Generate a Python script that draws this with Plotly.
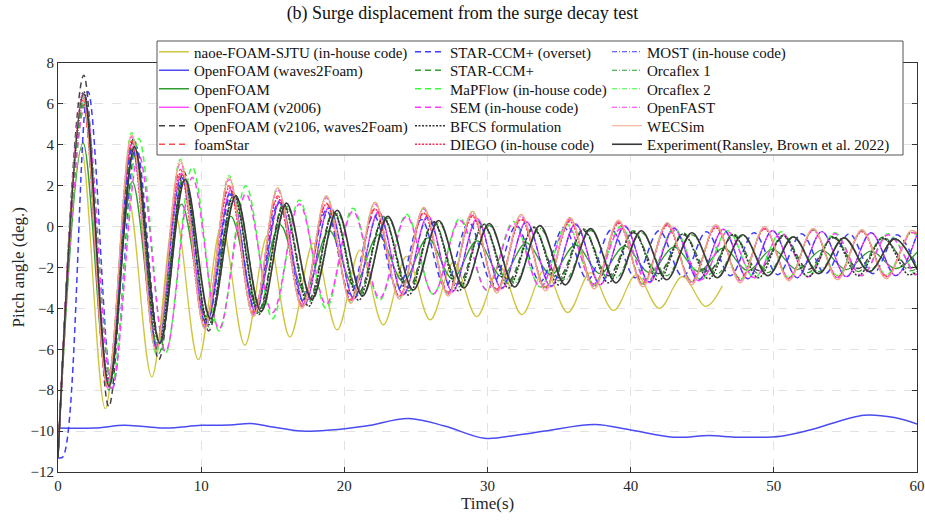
import plotly.graph_objects as go

# ---------------- data ----------------
# extrema times (s) of the different oscillation families
T_A = [0, 1.75, 3.45, 5.15, 6.85, 8.55, 10.25, 11.95, 13.65, 15.35, 17.05, 18.75, 20.45, 22.15,
       23.85, 25.55, 27.25, 28.95, 30.65, 32.35, 34.05, 35.75, 37.45, 39.15, 40.85, 42.55,
       44.25, 45.95, 47.65, 49.35, 51.05, 52.75, 54.45, 56.15, 57.85, 59.55, 60]
T_B = [0, 1.75, 3.47, 5.19, 6.91, 8.63, 10.35, 12.07, 13.79, 15.51, 17.23, 18.95, 20.67, 22.39,
       24.11, 25.83, 27.55, 29.27, 30.99, 32.71, 34.43, 36.15, 37.87, 39.59, 41.31, 43.03,
       44.75, 46.47, 48.19, 49.91, 51.63, 53.35, 55.07, 56.79, 58.51, 60]
T_C = [0, 1.8, 3.55, 5.29, 7.04, 8.78, 10.53, 12.27, 14.02, 15.76, 17.51, 19.25, 21.0, 22.74,
       24.49, 26.23, 27.98, 29.72, 31.47, 33.21, 34.96, 36.7, 38.45, 40.19, 41.94, 43.68,
       45.43, 47.17, 48.92, 50.66, 52.41, 54.15, 55.9, 57.64, 59.39, 60]
T_EXP = [0, 1.8, 3.57, 5.34, 7.11, 8.88, 10.65, 12.42, 14.19, 15.96, 17.73, 19.5, 21.27, 23.04,
         24.81, 26.58, 28.35, 30.12, 31.89, 33.66, 35.43, 37.2, 38.97, 40.74, 42.51, 44.28,
         46.05, 47.82, 49.59, 51.36, 53.13, 54.9, 56.67, 58.44, 60]
T_SEM = [0, 1.9, 3.77, 5.64, 7.51, 9.38, 11.25, 13.12, 14.99, 16.86, 18.73, 20.6, 22.47, 24.34,
         26.21, 28.08, 29.95, 31.82, 33.69, 35.56, 37.43, 39.3, 41.17, 43.04, 44.91, 46.78,
         48.65, 50.52, 52.39, 54.26, 56.13, 58.0, 59.87, 60]
T_BLUE = [0, 0.35, 2.1, 3.8, 5.46, 7.12, 8.78, 10.44, 12.1, 13.76, 15.42, 17.08, 18.74, 20.4,
          22.06, 23.72, 25.38, 27.04, 28.7, 30.36, 32.02, 33.68, 35.34, 37.0, 38.66, 40.32,
          41.98, 43.64, 45.3, 46.96, 48.62, 50.28, 51.94, 53.6, 55.26, 56.92, 58.58, 60]
T_YELLOW = [0, 1.62, 3.3, 4.92, 6.55, 8.18, 9.8, 11.43, 13.05, 14.65, 16.2, 17.85, 19.5, 21.1,
            22.72, 24.35, 26.0, 27.62, 29.25, 30.85, 32.4, 34.0, 35.6, 37.2, 38.8, 40.4, 42.0,
            43.62, 45.25, 46.4]
T_W2F = [0, 2.5, 4.6, 6.0, 7.6, 10.0, 12.0, 13.5, 15.0, 17.0, 19.0, 21.5, 24.5, 27.0, 29.8,
         32.0, 34.0, 37.5, 40.0, 43.0, 45.5, 47.5, 50.5, 52.5, 56.3, 58.5, 60]

# pitch angle values (deg.) at those times
naoe = [-11.3, 3.8, -8.9, 1.3, -7.35, 0.6, -6.5, 0.05, -5.8, -0.4, -5.4, -0.8, -5.05, -1.15,
        -4.8, -1.45, -4.56, -1.75, -4.4, -1.95, -4.3, -2.1, -4.2, -2.25, -4.1, -2.35, -4.0,
        -2.45, -3.9, -2.9]
of_w2f = [-9.85, -9.85, -9.72, -9.78, -9.85, -9.72, -9.7, -9.63, -9.8, -10.0, -9.95, -9.75,
          -9.38, -9.75, -10.35, -10.2, -10.0, -9.68, -9.95, -10.3, -10.22, -10.3, -10.25, -9.95,
          -9.22, -9.35, -9.65]
openfoam = [-11.3, 4.1, -7.6, 2.2, -5.7, 1.1, -4.4, 0.5, -3.7, 0.1, -3.2, -0.2, -2.9, -0.4, -2.7,
            -0.55, -2.55, -0.7, -2.45, -0.8, -2.35, -0.9, -2.3, -0.95, -2.25, -1.0, -2.2, -1.05,
            -2.15, -1.1, -2.1, -1.15, -2.1, -1.2, -2.05, -1.25]
of_v2006 = [-11.3, 6.4, -7.9, 4.1, -5.8, 2.6, -4.8, 1.8, -4.2, 1.3, -3.8, 1.0, -3.55, 0.75, -3.35,
            0.55, -3.2, 0.4, -3.05, 0.25, -2.95, 0.15, -2.85, 0.05, -2.75, -0.05, -2.65, -0.12,
            -2.55, -0.2, -2.5, -0.25, -2.45, -0.3, -2.4, -0.4]
of_v2106 = [-11.3, 7.4, -8.8, 4.3, -6.5, 2.7, -5.1, 1.7, -4.1, 1.1, -3.6, 0.7, -3.25, 0.4, -3.0,
            0.2, -2.8, 0.05, -2.65, -0.1, -2.5, -0.2, -2.4, -0.3, -2.3, -0.4, -2.2, -0.45, -2.15,
            -0.5, -2.1, -0.55, -2.05, -0.6, -2.0, -1.9]
foamstar = [-11.3, 5.9, -7.8, 4.2, -5.9, 2.8, -4.8, 2.0, -4.2, 1.5, -3.8, 1.15, -3.55, 0.9, -3.4,
            0.7, -3.2, 0.55, -3.05, 0.4, -2.95, 0.3, -2.85, 0.2, -2.75, 0.1, -2.65, 0.0, -2.55,
            -0.1, -2.5, -0.15, -2.45, -0.2, -2.4, -0.25, -0.35]
star_overset = [-11.3, -11.25, 6.6, -7.9, 3.9, -5.7, 2.3, -4.6, 1.6, -4.0, 1.2, -3.6, 0.8, -3.3,
                0.55, -3.1, 0.35, -2.95, 0.2, -2.8, 0.05, -2.7, -0.05, -2.6, -0.15, -2.5, -0.2,
                -2.45, -0.25, -2.4, -0.3, -2.35, -0.35, -2.3, -0.35, -2.3, -0.4, -2.0]
star_ccm = [-11.3, 6.2, -8.0, 4.0, -6.2, 2.5, -4.9, 1.6, -4.2, 1.1, -3.7, 0.8, -3.4, 0.5, -3.15,
            0.3, -2.95, 0.15, -2.8, 0.0, -2.65, -0.1, -2.55, -0.2, -2.45, -0.3, -2.35, -0.35,
            -2.3, -0.4, -2.25, -0.45, -2.2, -0.5, -2.15, -2.05]
mapflow = [-11.3, 6.0, -7.6, 4.3, -6.2, 2.9, -5.1, 2.0, -4.5, 1.3, -4.0, 0.9, -3.6, 0.6, -3.3,
           0.4, -3.1, 0.25, -2.95, 0.1, -2.8, 0.0, -2.7, -0.1, -2.6, -0.2, -2.5, -0.25, -2.45,
           -0.3, -2.4, -0.35, -2.35, -2.3]
sem = [-11.3, 6.0, -7.9, 3.5, -6.1, 2.4, -5.0, 1.6, -4.2, 1.1, -3.8, 0.75, -3.5, 0.5, -3.3,
       0.3, -3.1, 0.15, -2.95, 0.0, -2.8, -0.1, -2.7, -0.2, -2.6, -0.25, -2.5, -0.3, -2.45,
       -0.35, -2.4, -0.4, -2.35, -2.3]
bfcs = [-11.3, 6.6, -7.5, 3.6, -5.6, 2.2, -4.8, 1.5, -4.3, 1.0, -3.9, 0.7, -3.6, 0.45, -3.35,
        0.25, -3.15, 0.1, -3.0, -0.05, -2.85, -0.15, -2.75, -0.25, -2.65, -0.35, -2.55, -0.4,
        -2.5, -0.45, -2.45, -0.5, -2.4, -0.55, -2.35, -2.2]
diego = [-11.3, 6.2, -7.8, 4.0, -6.0, 2.6, -4.9, 1.9, -4.3, 1.4, -3.9, 1.1, -3.6, 0.85, -3.4,
         0.65, -3.25, 0.5, -3.1, 0.35, -3.0, 0.25, -2.9, 0.15, -2.8, 0.05, -2.7, -0.05, -2.6,
         -0.12, -2.55, -0.18, -2.5, -0.25, -2.45, -0.3, -0.4]
most = [-11.3, 6.3, -7.7, 3.8, -5.9, 2.4, -4.8, 1.7, -4.2, 1.2, -3.8, 0.9, -3.5, 0.65, -3.3,
        0.45, -3.15, 0.3, -3.0, 0.2, -2.9, 0.1, -2.8, 0.0, -2.7, -0.1, -2.6, -0.15, -2.55,
        -0.2, -2.5, -0.25, -2.45, -0.3, -2.4, -0.35]
orcaflex1 = [-11.3, 6.0, -7.6, 3.7, -5.7, 2.3, -4.6, 1.5, -4.0, 1.0, -3.6, 0.65, -3.3, 0.4, -3.1,
             0.2, -2.9, 0.05, -2.75, -0.1, -2.6, -0.2, -2.5, -0.3, -2.4, -0.4, -2.3, -0.45,
             -2.25, -0.5, -2.2, -0.55, -2.15, -0.6, -2.0]
orcaflex2 = [-11.3, 6.3, -7.7, 4.6, -6.2, 3.3, -5.0, 2.5, -4.4, 1.9, -3.9, 1.5, -3.7, 1.2, -3.5,
             0.9, -3.3, 0.75, -3.15, 0.55, -3.0, 0.42, -2.9, 0.28, -2.8, 0.18, -2.7, 0.05, -2.6,
             -0.05, -2.5, -0.15, -2.4, -0.22, -2.35, -0.3, -0.4]
openfast = [-11.3, 6.5, -7.6, 4.4, -6.0, 3.1, -4.9, 2.3, -4.3, 1.8, -3.9, 1.4, -3.65, 1.1, -3.45,
            0.85, -3.3, 0.65, -3.15, 0.5, -3.05, 0.38, -2.95, 0.25, -2.85, 0.15, -2.75, 0.02,
            -2.65, -0.08, -2.55, -0.15, -2.5, -0.22, -2.45, -0.3, -0.4]
wecsim = [-11.3, 6.4, -7.8, 4.5, -6.1, 3.2, -5.0, 2.4, -4.4, 1.9, -4.0, 1.5, -3.75, 1.2, -3.55,
          0.95, -3.4, 0.75, -3.25, 0.6, -3.15, 0.45, -3.05, 0.32, -2.95, 0.2, -2.85, 0.1, -2.75,
          0.0, -2.65, -0.08, -2.6, -0.15, -2.55, -0.2, -0.3]
experiment = [-11.3, 6.5, -7.8, 3.9, -5.7, 2.3, -4.5, 1.5, -4.15, 1.15, -3.55, 0.8, -3.4, 0.5,
              -3.1, 0.3, -3.0, 0.15, -2.95, 0.05, -2.85, -0.1, -2.75, -0.2, -2.6, -0.3, -2.5,
              -0.4, -2.4, -0.5, -2.3, -0.55, -2.2, -0.6, -2.1]

series_names = ["naoe-FOAM-SJTU (in-house code)", "OpenFOAM (waves2Foam)", "OpenFOAM",
                "OpenFOAM (v2006)", "OpenFOAM (v2106, waves2Foam)", "foamStar",
                "STAR-CCM+ (overset)", "STAR-CCM+", "MaPFlow (in-house code)",
                "SEM (in-house code)", "BFCS formulation", "DIEGO (in-house code)",
                "MOST (in-house code)", "Orcaflex 1", "Orcaflex 2", "OpenFAST", "WECSim",
                "Experiment(Ransley, Brown et al. 2022)"]
series_t = [T_YELLOW, T_W2F, T_B, T_B, T_C, T_A, T_BLUE, T_C, T_SEM, T_SEM, T_C, T_A,
            T_B, T_EXP, T_A, T_A, T_A, T_EXP]
series_y = [naoe, of_w2f, openfoam, of_v2006, of_v2106, foamstar, star_overset, star_ccm,
            mapflow, sem, bfcs, diego, most, orcaflex1, orcaflex2, openfast, wecsim, experiment]

x_ticks = [0, 10, 20, 30, 40, 50, 60]
y_ticks = [-12, -10, -8, -6, -4, -2, 0, 2, 4, 6, 8]

# ---------------- styles ----------------
DASH = "6px,4px"
DOT = "2px,1.5px"
DASHDOT = "5px,2px,1px,2px"
styles = [
    ("#cfc53f", "solid", 1.3), ("#4b4bf2", "solid", 1.5), ("#2e9e2e", "solid", 1.3),
    ("#ff3cff", "solid", 1.3), ("#444444", DASH, 1.5), ("#ff4d4d", DASH, 1.3),
    ("#3c3cff", DASH, 1.5), ("#2e9e2e", DASH, 1.3), ("#3cff3c", DASH, 1.5),
    ("#ff3cff", DASH, 1.5), ("#333333", DOT, 1.5), ("#ff2a55", DOT, 1.5),
    ("#3c3cff", DASHDOT, 1.2), ("#2e9e2e", DASHDOT, 1.2), ("#3cff3c", DASHDOT, 1.2),
    ("#ff3cff", DASHDOT, 1.2), ("#f4a585", "solid", 1.2), ("#3a3a3a", "solid", 1.6),
]

W, H = 925, 524
L, R, T, B = 58, 8, 63, 52
PW, PH = W - L - R, H - T - B


def px_x(p):
    return (p - L) / PW


def px_y(p):
    return (H - B - p) / PH


FONT = "Liberation Serif"

# one legend per entry, laid out in three columns of six rows
col_left = [154, 410, 607]
row_mid = [52, 70.5, 89, 107.5, 126, 144.5]

fig = go.Figure()
legend_layouts = {}
for i, (name, t, y, (col, dash, w)) in enumerate(zip(series_names, series_t, series_y, styles)):
    lid = "legend" if i == 0 else f"legend{i + 1}"
    fig.add_trace(go.Scatter(x=t, y=y, name=name, mode="lines", legend=lid,
                             line=dict(color=col, dash=dash, width=w,
                                       shape="spline", smoothing=1.0)))
    c, r = divmod(i, 6)
    legend_layouts[lid] = dict(x=px_x(col_left[c]), y=px_y(row_mid[r]), xanchor="left",
                               yanchor="middle", bgcolor="rgba(0,0,0,0)", borderwidth=0,
                               font=dict(family=FONT, size=15, color="#111111"),
                               itemwidth=30)

axis_common = dict(showline=True, linecolor="#333333", linewidth=1, mirror="ticks",
                   ticks="inside", ticklen=5, tickcolor="#333333",
                   showgrid=True, gridcolor="#e2e2e2", griddash="dash", gridwidth=1,
                   zeroline=False, tickfont=dict(family=FONT, size=15, color="#262626"))

fig.update_layout(
    width=W, height=H,
    margin=dict(l=L, r=R, t=T, b=B, autoexpand=False),
    paper_bgcolor="white", plot_bgcolor="white",
    font=dict(family=FONT, color="#262626"),
    title=dict(text="(b) Surge displacement from the surge decay test", x=0.5, xref="container",
               y=1 - 13 / H, yref="container", yanchor="middle", xanchor="center",
               font=dict(family=FONT, size=18, color="#111111")),
    xaxis=dict(range=[0, 60], tickvals=x_ticks, **axis_common),
    yaxis=dict(range=[-12, 8], tickvals=y_ticks, **axis_common),
    showlegend=True,
    **legend_layouts,
)

# legend frame
fig.add_shape(type="rect", xref="paper", yref="paper",
              x0=px_x(157), x1=px_x(903), y0=px_y(155), y1=px_y(41),
              line=dict(color="#555555", width=1), fillcolor="white", layer="above")

fig.add_annotation(text="Time(s)", xref="paper", yref="paper", x=0.5, y=px_y(503),
                   showarrow=False, yanchor="middle", font=dict(family=FONT, size=17, color="#262626"))
fig.add_annotation(text="Pitch angle (deg.)", xref="paper", yref="paper", x=px_x(18),
                   y=0.5, textangle=-90, showarrow=False, xanchor="center",
                   font=dict(family=FONT, size=17, color="#262626"))

fig.write_html("out.html", config={"displayModeBar": False},
               post_script="document.body.style.margin='0px';document.body.style.padding='0px';")
